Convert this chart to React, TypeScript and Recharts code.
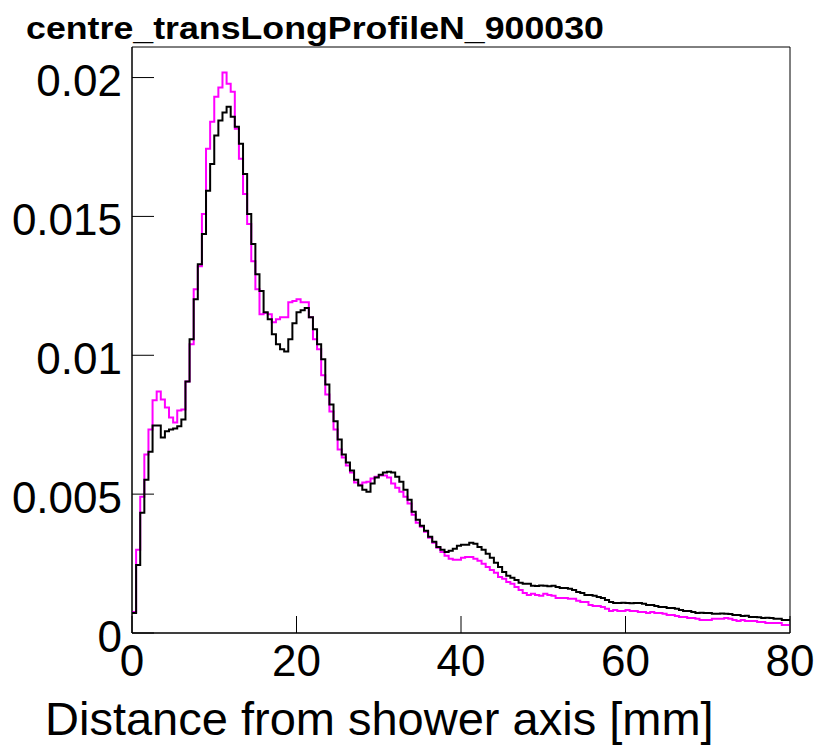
import React from "react";
import { LineChart, Line, XAxis, YAxis, ReferenceArea } from "recharts";

// transverse profile, 0.5 mm bins from 0 to 80 mm
const BIN_WIDTH = 0.5;
const X_MAX = 80;
const Y_MAX = 0.0211;

const xTicks = [0, 20, 40, 60, 80];
const yTicks = [0, 0.005, 0.01, 0.015, 0.02];

const title = "centre_transLongProfileN_900030";
const xTitle = "Distance from shower axis [mm]";

// black histogram
const black = [
  0.00072, 0.00245, 0.00433, 0.00552, 0.00653, 0.00747, 0.00747, 0.00704, 0.00726, 0.00733,
  0.00736, 0.00744, 0.00769, 0.00906, 0.01058, 0.01202, 0.01328, 0.01437, 0.01592, 0.01689,
  0.01791, 0.01845, 0.01874, 0.01895, 0.01859, 0.01823, 0.01762, 0.01653, 0.01509, 0.01401,
  0.01292, 0.01231, 0.01155, 0.0113, 0.01076, 0.0104, 0.01022, 0.01014, 0.01058, 0.01115,
  0.01155, 0.01162, 0.0117, 0.01137, 0.01094, 0.0104, 0.00986, 0.00895, 0.00823, 0.00762,
  0.00697, 0.00643, 0.00614, 0.00585, 0.00552, 0.00531, 0.00516, 0.00509, 0.00538, 0.0056,
  0.0057, 0.00578, 0.00581, 0.00578, 0.00563, 0.00545, 0.00516, 0.0048, 0.00437, 0.00408,
  0.00386, 0.00368, 0.00347, 0.00329, 0.0031, 0.003, 0.00292, 0.00296, 0.00303, 0.00314,
  0.00318, 0.00318, 0.00325, 0.00321, 0.0031, 0.003, 0.00285, 0.00271, 0.00253, 0.00238,
  0.0022, 0.00206, 0.00199, 0.00191, 0.00181, 0.00177, 0.00177, 0.0017, 0.00169, 0.00171,
  0.0017, 0.00168, 0.0017, 0.00166, 0.00162, 0.00162, 0.00159, 0.00155, 0.00148, 0.00144,
  0.00137, 0.00137, 0.00134, 0.0013, 0.00126, 0.00119, 0.00112, 0.00108, 0.00108, 0.00109,
  0.00108, 0.00107, 0.00108, 0.00108, 0.00105, 0.00101, 0.00101, 0.00097, 0.00094, 0.00094,
  0.0009, 0.0009, 0.00087, 0.00083, 0.00079, 0.00079, 0.00076, 0.00072, 0.00073, 0.00072,
  0.00072, 0.00069, 0.00069, 0.0007, 0.00069, 0.00068, 0.00065, 0.00065, 0.00061, 0.00062,
  0.00058, 0.00058, 0.00057, 0.00054, 0.00055, 0.00054, 0.00051, 0.00051, 0.00047, 0.00047,
];

// magenta histogram
const magenta = [
  0.00076, 0.003, 0.00491, 0.00643, 0.00733, 0.00838, 0.0087, 0.00841, 0.00812, 0.00776,
  0.00758, 0.00801, 0.00805, 0.00906, 0.0104, 0.01238, 0.01321, 0.01509, 0.01744, 0.01841,
  0.01931, 0.01964, 0.02018, 0.01978, 0.01949, 0.01816, 0.01708, 0.01581, 0.01473, 0.01339,
  0.01238, 0.01148, 0.01152, 0.01148, 0.01119, 0.0113, 0.01137, 0.01137, 0.01191, 0.01195,
  0.01202, 0.01191, 0.01191, 0.01137, 0.01058, 0.01022, 0.00928, 0.00859, 0.00798, 0.00733,
  0.00661, 0.00632, 0.00603, 0.00578, 0.00542, 0.00534, 0.00542, 0.00545, 0.00556, 0.00563,
  0.00567, 0.00567, 0.0056, 0.00538, 0.00523, 0.00509, 0.00491, 0.00466, 0.00426, 0.00397,
  0.00383, 0.00365, 0.00343, 0.00325, 0.00307, 0.00292, 0.00278, 0.00267, 0.00264, 0.00264,
  0.00271, 0.00274, 0.00274, 0.00267, 0.0026, 0.00249, 0.00238, 0.00227, 0.00217, 0.00202,
  0.00195, 0.00184, 0.00177, 0.00166, 0.00155, 0.00144, 0.00137, 0.00141, 0.00137, 0.00134,
  0.00141, 0.00137, 0.00134, 0.00126, 0.00126, 0.00126, 0.00123, 0.00123, 0.00116, 0.00112,
  0.00112, 0.00101, 0.00097, 0.00097, 0.00094, 0.00087, 0.00079, 0.00083, 0.00079, 0.00079,
  0.00083, 0.00079, 0.00079, 0.00076, 0.00076, 0.00072, 0.00076, 0.00072, 0.00072, 0.00069,
  0.00065, 0.00065, 0.00061, 0.00058, 0.00058, 0.00054, 0.00054, 0.00051, 0.00047, 0.00047,
  0.00047, 0.00051, 0.00051, 0.00051, 0.00054, 0.00051, 0.00047, 0.00043, 0.00047, 0.00043,
  0.00043, 0.00043, 0.0004, 0.0004, 0.00036, 0.00036, 0.00036, 0.00036, 0.00029, 0.00029,
];

// bin low edges + closing edge so the last step reaches 80
const rows = black.map((b, i) => ({ x: i * BIN_WIDTH, black: b, magenta: magenta[i] }));
rows.push({
  x: black.length * BIN_WIDTH,
  black: black[black.length - 1],
  magenta: magenta[magenta.length - 1],
});

const FONT = "'Liberation Sans', Arial, Helvetica, sans-serif";
const TICK_FONT = 44;

// ROOT style: tick marks point into the frame, labels outside
const YTick = (props: any) => {
  const { x, y, payload } = props;
  return (
    <g>
      <line x1={x + 10} x2={x + 32} y1={y} y2={y} stroke="#000" strokeWidth={1} />
      <text x={x} y={y + 18.5} textAnchor="end" fontSize={TICK_FONT} fontFamily={FONT} fill="#000">
        {String(payload.value)}
      </text>
    </g>
  );
};

const XTick = (props: any) => {
  const { x, y, payload } = props;
  return (
    <g>
      <line x1={x} x2={x} y1={y} y2={y - 17} stroke="#000" strokeWidth={1} />
      <text x={x} y={y + 43} textAnchor="middle" fontSize={TICK_FONT} fontFamily={FONT} fill="#000">
        {String(payload.value)}
      </text>
    </g>
  );
};

export default function App() {
  return (
    <div
      style={{
        position: "absolute",
        left: 0,
        top: 0,
        width: 820,
        height: 746,
        background: "#fff",
        overflow: "hidden",
      }}
    >
      <LineChart width={820} height={746} data={rows} margin={{ top: 47, right: 30, bottom: 0, left: 0 }}>
        <XAxis
          dataKey="x"
          type="number"
          domain={[0, X_MAX]}
          ticks={xTicks}
          height={113}
          tickSize={0}
          tickMargin={0}
          tickLine={false}
          axisLine={{ stroke: "#000", strokeWidth: 1 }}
          tick={<XTick />}
          interval={0}
        />
        <YAxis
          type="number"
          domain={[0, Y_MAX]}
          ticks={yTicks}
          width={132}
          tickSize={0}
          tickMargin={10}
          tickLine={false}
          axisLine={{ stroke: "#000", strokeWidth: 1 }}
          tick={<YTick />}
          interval={0}
          allowDataOverflow
        />
        <Line
          type="stepAfter"
          dataKey="magenta"
          stroke="#ff00ff"
          strokeWidth={2}
          dot={false}
          activeDot={false}
          isAnimationActive={false}
        />
        <Line
          type="stepAfter"
          dataKey="black"
          stroke="#000"
          strokeWidth={2}
          dot={false}
          activeDot={false}
          isAnimationActive={false}
        />
        <ReferenceArea x1={0} x2={X_MAX} y1={0} y2={Y_MAX} fill="none" stroke="#000" strokeWidth={1} />
      </LineChart>
      <svg
        width={820}
        height={746}
        style={{ position: "absolute", left: 0, top: 0, pointerEvents: "none" }}
      >
        <text
          x={26}
          y={39}
          fontSize={31}
          fontWeight="bold"
          fontFamily={FONT}
          fill="#000"
          textLength={578}
          lengthAdjust="spacingAndGlyphs"
        >
          {title}
        </text>
        <text x={45} y={735} fontSize={47} fontFamily={FONT} fill="#000">
          {xTitle}
        </text>
      </svg>
    </div>
  );
}
